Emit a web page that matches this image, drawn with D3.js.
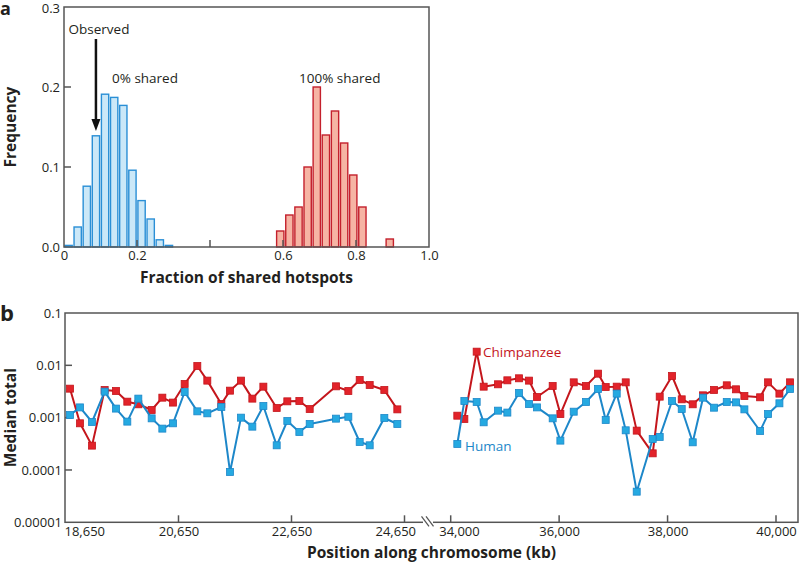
<!DOCTYPE html>
<html>
<head>
<meta charset="utf-8">
<script src="https://cdn.jsdelivr.net/npm/d3@7"></script>
<style>
  html, body { margin: 0; padding: 0; background: #fff; }
  svg { display: block; font-family: "Open Sans", "Noto Sans", sans-serif; }
</style>
</head>
<body>
<svg id="chart" width="800" height="565"></svg>
<script>
// ---------- Panel a data ----------
const zeroBinCenters = [0.0125, 0.0375, 0.0625, 0.0875, 0.1125, 0.1375, 0.1625, 0.1875, 0.2125, 0.2375, 0.2625, 0.2875];
const zeroSharedFreq = [0.002, 0.025, 0.076, 0.139, 0.191, 0.187, 0.177, 0.096, 0.058, 0.035, 0.009, 0.002];
const fullBinCenters = [0.5925, 0.6175, 0.6425, 0.6675, 0.6925, 0.7175, 0.7425, 0.7675, 0.7925, 0.8175, 0.8925];
const fullSharedFreq = [0.02, 0.04, 0.05, 0.10, 0.20, 0.14, 0.17, 0.13, 0.09, 0.05, 0.01];
const aXTicks = [0, 0.2, 0.4, 0.6, 0.8, 1.0];
const aXTickLabels = ["0", "0.2", "", "0.6", "0.8", "1.0"];
const aYTicks = [0, 0.1, 0.2, 0.3];
const aYTickLabels = ["0.0", "0.1", "0.2", "0.3"];
const observedValue = 0.0875;

// ---------- Panel b data ----------
const leftPos = [18730, 18907, 19119, 19343, 19544, 19744, 19939, 20175, 20364, 20553, 20759, 20983, 21160, 21408,
  21562, 21756, 21957, 22152, 22388, 22576, 22789, 22972, 23438, 23656, 23857, 24034, 24293, 24523];
const chimpLeft = [0.00358, 0.00078, 0.000292, 0.00338, 0.00323, 0.00202, 0.0018, 0.0014, 0.00241, 0.00194, 0.0044,
  0.0097, 0.0051, 0.00182, 0.00328, 0.0051, 0.00231, 0.00391, 0.00153, 0.00205, 0.00208, 0.00146, 0.00397, 0.00323,
  0.00525, 0.00421, 0.00338, 0.00144];
const humanLeft = [0.00112, 0.00157, 0.000826, 0.00314, 0.00149, 0.00084, 0.00231, 0.00097, 0.000617, 0.00078, 0.00309,
  0.00132, 0.00121, 0.0016, 0.0000916, 0.001, 0.000673, 0.00167, 0.000296, 0.000863, 0.000532, 0.000757, 0.000957,
  0.00104, 0.000343, 0.000296, 0.000986, 0.000757];
const rightPos = [34122, 34252, 34479, 34608, 34873, 35045, 35260, 35445, 35592, 35881, 36023, 36269, 36496, 36718,
  36859, 37062, 37228, 37431, 37726, 37855, 38083, 38261, 38464, 38655, 38858, 39092, 39264, 39417, 39707, 39854,
  40063, 40260];
const chimpRight = [0.00109, 0.000944, 0.01824, 0.00391, 0.00434, 0.00517, 0.00565, 0.0051, 0.00248, 0.00403, 0.00117,
  0.00473, 0.00403, 0.00693, 0.00385, 0.00391, 0.00473, 0.000565, 0.000208, 0.00252, 0.00625, 0.00224, 0.0018,
  0.00267, 0.00338, 0.00415, 0.00348, 0.00259, 0.00245, 0.00473, 0.00288, 0.00473];
const humanRight = [0.000314, 0.00208, 0.00199, 0.000815, 0.00136, 0.00125, 0.00296, 0.00182, 0.00157, 0.00097,
  0.000364, 0.0013, 0.00199, 0.00353, 0.000902, 0.00288, 0.000573, 0.0000385, 0.000391, 0.000428, 0.00208, 0.00146,
  0.000338, 0.00241, 0.00155, 0.00199, 0.00196, 0.00144, 0.000556, 0.00117, 0.00188, 0.00353];
const bLeftTicks = [18650, 20650, 22650, 24650];
const bRightTicks = [34000, 36000, 38000, 40000];
const bYTicks = [0.1, 0.01, 0.001, 0.0001, 0.00001];
const bYTickLabels = ["0.1", "0.01", "0.001", "0.0001", "0.00001"];

// ---------- styles ----------
const axisColor = "#555555";
const textColor = "#231f20";
const blueStroke = "#2a8fd6", blueFill = "#cbe8f8";
const redStroke = "#c4202c", redFill = "#f6b4a4";
const chimpLine = "#c4161c", chimpMarker = "#e2232a";
const humanLine = "#1d87c9", humanMarker = "#25a9e1";

const svg = d3.select("#chart");

// ================= Panel a =================
const ax = d3.scaleLinear().domain([0, 1]).range([64, 429]);
const ay = d3.scaleLinear().domain([0, 0.3]).range([247, 7]);
const ga = svg.append("g");

const barW = ax(0.02) - ax(0);
ga.selectAll("rect.blue").data(zeroBinCenters).join("rect")
  .attr("x", (d) => ax(d) - barW / 2)
  .attr("y", (d, i) => ay(zeroSharedFreq[i]))
  .attr("width", barW)
  .attr("height", (d, i) => ay(0) - ay(zeroSharedFreq[i]))
  .attr("fill", blueFill).attr("stroke", blueStroke).attr("stroke-width", 1.4);
ga.selectAll("rect.red").data(fullBinCenters).join("rect")
  .attr("x", (d) => ax(d) - barW / 2)
  .attr("y", (d, i) => ay(fullSharedFreq[i]))
  .attr("width", barW)
  .attr("height", (d, i) => ay(0) - ay(fullSharedFreq[i]))
  .attr("fill", redFill).attr("stroke", redStroke).attr("stroke-width", 1.4);

// frame
ga.append("rect").attr("x", ax(0)).attr("y", ay(0.3)).attr("width", ax(1) - ax(0)).attr("height", ay(0) - ay(0.3))
  .attr("fill", "none").attr("stroke", axisColor).attr("stroke-width", 1.5);

// axes
const aXAxis = d3.axisBottom(ax).tickValues(aXTicks).tickSize(0).tickPadding(4)
  .tickFormat((d, i) => aXTickLabels[i]);
const gax = ga.append("g").attr("transform", `translate(0,${ay(0)})`).call(aXAxis);
gax.select(".domain").remove();
gax.selectAll("text").attr("font-size", 13).attr("fill", textColor).attr("font-family", "Open Sans");
ga.selectAll("line.axt").data(aXTicks.filter((d) => d > 0 && d < 1)).join("line")
  .attr("x1", (d) => ax(d)).attr("x2", (d) => ax(d)).attr("y1", ay(0)).attr("y2", ay(0) - 7)
  .attr("stroke", axisColor).attr("stroke-width", 1.5);

const aYAxis = d3.axisLeft(ay).tickValues(aYTicks).tickSize(0).tickPadding(4)
  .tickFormat((d, i) => aYTickLabels[i]);
const gay = ga.append("g").attr("transform", `translate(${ax(0)},0)`).call(aYAxis);
gay.select(".domain").remove();
gay.selectAll("text").attr("font-size", 13).attr("fill", textColor).attr("font-family", "Open Sans");
gay.selectAll(".tick").filter((d) => d === 0.3).select("text").attr("dy", "0.45em");
ga.selectAll("line.ayt").data(aYTicks.filter((d) => d > 0 && d < 0.3)).join("line")
  .attr("x1", ax(0)).attr("x2", ax(0) + 7).attr("y1", (d) => ay(d)).attr("y2", (d) => ay(d))
  .attr("stroke", axisColor).attr("stroke-width", 1.5);

// labels
ga.append("text").attr("x", (ax(0) + ax(1)) / 2).attr("y", 283).attr("text-anchor", "middle")
  .attr("font-size", 15.5).attr("font-weight", "bold").attr("fill", textColor).text("Fraction of shared hotspots");
ga.append("text").attr("transform", `translate(16,${(ay(0) + ay(0.3)) / 2}) rotate(-90)`).attr("text-anchor", "middle")
  .attr("font-size", 15.5).attr("font-weight", "bold").attr("fill", textColor).text("Frequency");
ga.append("text").attr("x", 0).attr("y", 15).attr("font-size", 18).attr("font-weight", "bold").attr("fill", textColor).text("a");

ga.append("text").attr("x", 99).attr("y", 34).attr("text-anchor", "middle").attr("font-size", 13.5).attr("fill", textColor).text("Observed");
ga.append("text").attr("x", 112).attr("y", 83).attr("font-size", 13.5).attr("fill", textColor).text("0% shared");
ga.append("text").attr("x", 299).attr("y", 83).attr("font-size", 13.5).attr("fill", textColor).text("100% shared");

// arrow
const arrowX = ax(observedValue);
ga.append("line").attr("x1", arrowX).attr("x2", arrowX).attr("y1", 39).attr("y2", 121)
  .attr("stroke", "#111").attr("stroke-width", 2.5);
ga.append("path").attr("d", `M${arrowX - 4.5},${119} L${arrowX + 4.5},${119} L${arrowX},${131} Z`).attr("fill", "#111");

// ================= Panel b =================
const gb = svg.append("g");
const bxL = d3.scaleLinear().domain([18650, 24650]).range([65.5, 404.5]);
const bxR = d3.scaleLinear().domain([34000, 40000]).range([450.7, 776]);
const by = d3.scaleLog().domain([0.00001, 0.1]).range([522.3, 313]);
const bLeft = 65, bRight = 798;

gb.append("rect").attr("x", bLeft).attr("y", by(0.1)).attr("width", bRight - bLeft).attr("height", by(0.00001) - by(0.1))
  .attr("fill", "none").attr("stroke", axisColor).attr("stroke-width", 1.5);

// y axis
const bYAxis = d3.axisLeft(by).tickValues(bYTicks).tickSize(0).tickPadding(3)
  .tickFormat((d, i) => bYTickLabels[i]);
const gby = gb.append("g").attr("transform", `translate(${bLeft},0)`).call(bYAxis);
gby.select(".domain").remove();
gby.selectAll("text").attr("font-size", 13).attr("fill", textColor).attr("font-family", "Open Sans");
gb.selectAll("line.byt").data(bYTicks.slice(1, 4)).join("line")
  .attr("x1", bLeft).attr("x2", bLeft + 7).attr("y1", (d) => by(d)).attr("y2", (d) => by(d))
  .attr("stroke", axisColor).attr("stroke-width", 1.5);

// x axes
const fmt = d3.format(",");
const bXL = d3.axisBottom(bxL).tickValues(bLeftTicks).tickSize(0).tickPadding(4).tickFormat(fmt);
const gbxl = gb.append("g").attr("transform", `translate(0,${by(0.00001)})`).call(bXL);
gbxl.select(".domain").remove();
gbxl.selectAll("text").attr("font-size", 13).attr("fill", textColor).attr("font-family", "Open Sans");
gbxl.selectAll(".tick").filter((d) => d === 18650).select("text").attr("text-anchor", "start").attr("x", -1.5);
gbxl.selectAll(".tick").filter((d) => d === 24650).select("text").attr("text-anchor", "end").attr("x", 11);
const bXR = d3.axisBottom(bxR).tickValues(bRightTicks).tickSize(0).tickPadding(4).tickFormat(fmt);
const gbxr = gb.append("g").attr("transform", `translate(0,${by(0.00001)})`).call(bXR);
gbxr.select(".domain").remove();
gbxr.selectAll("text").attr("font-size", 13).attr("fill", textColor).attr("font-family", "Open Sans");
gbxr.selectAll(".tick").filter((d) => d === 34000).select("text").attr("text-anchor", "start").attr("x", -12);

gb.selectAll("line.bxtl").data(bLeftTicks.slice(1)).join("line")
  .attr("x1", (d) => bxL(d)).attr("x2", (d) => bxL(d)).attr("y1", by(0.00001)).attr("y2", by(0.00001) - 7)
  .attr("stroke", axisColor).attr("stroke-width", 1.5);
gb.selectAll("line.bxtr").data(bRightTicks).join("line")
  .attr("x1", (d) => bxR(d)).attr("x2", (d) => bxR(d)).attr("y1", by(0.00001)).attr("y2", by(0.00001) - 7)
  .attr("stroke", axisColor).attr("stroke-width", 1.5);

// break marks
const yb = by(0.00001);
gb.append("rect").attr("x", 423).attr("y", yb - 3).attr("width", 10).attr("height", 6).attr("fill", "#fff");
[0, 4.5].forEach((o) => {
  gb.append("line").attr("x1", 421.5 + o).attr("y1", yb - 6).attr("x2", 429 + o).attr("y2", yb + 4)
    .attr("stroke", axisColor).attr("stroke-width", 1.3);
});

// labels
gb.append("text").attr("x", (bLeft + bRight) / 2).attr("y", 558).attr("text-anchor", "middle")
  .attr("font-size", 15.5).attr("font-weight", "bold").attr("fill", textColor).text("Position along chromosome (kb)");
gb.append("text").attr("transform", `translate(16,${(by(0.1) + by(0.00001)) / 2}) rotate(-90)`).attr("text-anchor", "middle")
  .attr("font-size", 15.5).attr("font-weight", "bold").attr("fill", textColor).text("Median total");
gb.append("text").attr("x", 0).attr("y", 321).attr("font-size", 22).attr("font-weight", "bold").attr("fill", textColor).text("b");

// series
function drawSeries(xs, vals, xScale, lineColor, markerColor) {
  const pts = xs.map((x, i) => [xScale(x), by(vals[i])]);
  gb.append("path").attr("d", d3.line()(pts)).attr("fill", "none")
    .attr("stroke", lineColor).attr("stroke-width", 2).attr("stroke-linejoin", "round");
  const m = 7;
  gb.append("g").selectAll("rect").data(pts).join("rect")
    .attr("x", (d) => d[0] - m / 2).attr("y", (d) => d[1] - m / 2).attr("width", m).attr("height", m)
    .attr("fill", markerColor).attr("stroke", lineColor).attr("stroke-width", 0.8);
}
drawSeries(leftPos, chimpLeft, bxL, chimpLine, chimpMarker);
drawSeries(rightPos, chimpRight, bxR, chimpLine, chimpMarker);
drawSeries(leftPos, humanLeft, bxL, humanLine, humanMarker);
drawSeries(rightPos, humanRight, bxR, humanLine, humanMarker);

gb.append("text").attr("x", 483).attr("y", 356.5).attr("font-size", 13.5).attr("fill", chimpLine).text("Chimpanzee");
gb.append("text").attr("x", 465).attr("y", 450.5).attr("font-size", 13.5).attr("fill", humanLine).text("Human");
</script>
</body>
</html>
